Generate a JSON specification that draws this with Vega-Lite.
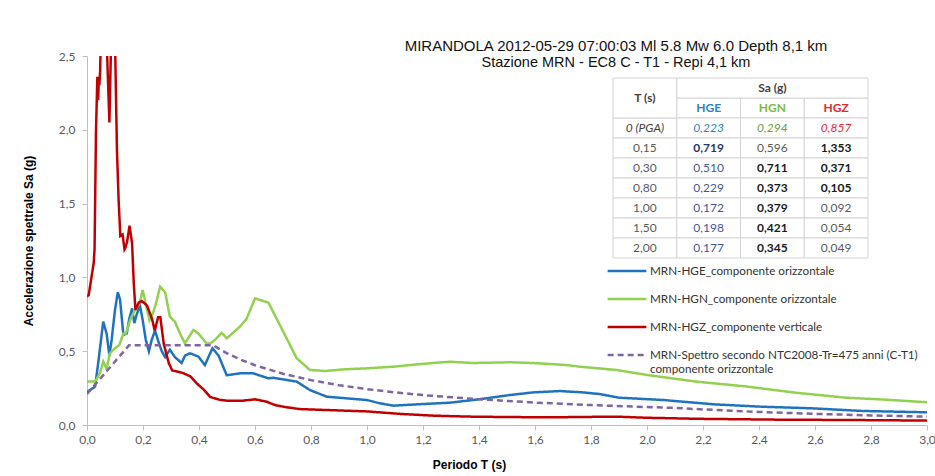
{
 "$schema": "https://vega.github.io/schema/vega-lite/v6.json",
 "width": 840,
 "height": 369,
 "autosize": "none",
 "padding": {"left": 87, "top": 56, "right": 8, "bottom": 51},
 "background": "#ffffff",
 "config": {
  "view": {"stroke": null},
  "font": "Liberation Sans",
  "legend": {"orient": "none", "legendX": 519, "legendY": 194, "title": null, "symbolType": "stroke", "symbolStrokeWidth": 2.5, "symbolSize": 1500, "labelFont": "Lato", "labelFontSize": 11.7, "labelColor": "#333333", "labelLimit": 400, "labelOffset": 2, "rowPadding": 0}
 },
 "title": {
  "text": "MIRANDOLA 2012-05-29 07:00:03 Ml 5.8 Mw 6.0 Depth 8,1 km",
  "subtitle": "Stazione MRN - EC8 C - T1 - Repi 4,1 km",
  "anchor": "middle", "dx": 109, "offset": -19,
  "font": "Liberation Sans", "fontSize": 15, "fontWeight": "normal", "color": "#111111",
  "subtitleFont": "Liberation Sans", "subtitleFontSize": 14.5, "subtitleColor": "#111111", "subtitlePadding": 2
 },
 "datasets": {
  "spettri": [
   {"s":"HGE","T":0,"Sa":0.223},{"s":"HGE","T":0.029,"Sa":0.26},{"s":"HGE","T":0.04,"Sa":0.42},{"s":"HGE","T":0.058,"Sa":0.70},{"s":"HGE","T":0.07,"Sa":0.62},{"s":"HGE","T":0.08,"Sa":0.47},{"s":"HGE","T":0.088,"Sa":0.576},{"s":"HGE","T":0.1,"Sa":0.78},{"s":"HGE","T":0.11,"Sa":0.90},{"s":"HGE","T":0.118,"Sa":0.85},{"s":"HGE","T":0.13,"Sa":0.61},{"s":"HGE","T":0.142,"Sa":0.62},{"s":"HGE","T":0.151,"Sa":0.72},{"s":"HGE","T":0.161,"Sa":0.79},{"s":"HGE","T":0.169,"Sa":0.69},{"s":"HGE","T":0.177,"Sa":0.745},{"s":"HGE","T":0.189,"Sa":0.81},{"s":"HGE","T":0.199,"Sa":0.71},{"s":"HGE","T":0.21,"Sa":0.576},{"s":"HGE","T":0.221,"Sa":0.50},{"s":"HGE","T":0.231,"Sa":0.576},{"s":"HGE","T":0.243,"Sa":0.64},{"s":"HGE","T":0.255,"Sa":0.565},{"s":"HGE","T":0.267,"Sa":0.50},{"s":"HGE","T":0.279,"Sa":0.46},{"s":"HGE","T":0.296,"Sa":0.51},{"s":"HGE","T":0.314,"Sa":0.46},{"s":"HGE","T":0.338,"Sa":0.42},{"s":"HGE","T":0.35,"Sa":0.47},{"s":"HGE","T":0.368,"Sa":0.486},{"s":"HGE","T":0.398,"Sa":0.463},{"s":"HGE","T":0.421,"Sa":0.406},{"s":"HGE","T":0.448,"Sa":0.52},{"s":"HGE","T":0.47,"Sa":0.47},{"s":"HGE","T":0.499,"Sa":0.337},{"s":"HGE","T":0.546,"Sa":0.35},{"s":"HGE","T":0.594,"Sa":0.35},{"s":"HGE","T":0.648,"Sa":0.316},{"s":"HGE","T":0.665,"Sa":0.32},{"s":"HGE","T":0.749,"Sa":0.294},{"s":"HGE","T":0.796,"Sa":0.237},{"s":"HGE","T":0.856,"Sa":0.192},{"s":"HGE","T":0.9,"Sa":0.185},{"s":"HGE","T":1.0,"Sa":0.169},{"s":"HGE","T":1.046,"Sa":0.147},{"s":"HGE","T":1.094,"Sa":0.131},{"s":"HGE","T":1.18,"Sa":0.14},{"s":"HGE","T":1.296,"Sa":0.151},{"s":"HGE","T":1.4,"Sa":0.174},{"s":"HGE","T":1.51,"Sa":0.203},{"s":"HGE","T":1.594,"Sa":0.221},{"s":"HGE","T":1.69,"Sa":0.23},{"s":"HGE","T":1.77,"Sa":0.221},{"s":"HGE","T":1.83,"Sa":0.21},{"s":"HGE","T":1.9,"Sa":0.185},{"s":"HGE","T":2.06,"Sa":0.169},{"s":"HGE","T":2.24,"Sa":0.14},{"s":"HGE","T":2.41,"Sa":0.124},{"s":"HGE","T":2.59,"Sa":0.113},{"s":"HGE","T":2.77,"Sa":0.095},{"s":"HGE","T":3.0,"Sa":0.086},
   {"s":"HGN","T":0,"Sa":0.294},{"s":"HGN","T":0.029,"Sa":0.294},{"s":"HGN","T":0.046,"Sa":0.35},{"s":"HGN","T":0.058,"Sa":0.43},{"s":"HGN","T":0.07,"Sa":0.38},{"s":"HGN","T":0.082,"Sa":0.486},{"s":"HGN","T":0.1,"Sa":0.52},{"s":"HGN","T":0.115,"Sa":0.54},{"s":"HGN","T":0.13,"Sa":0.62},{"s":"HGN","T":0.139,"Sa":0.62},{"s":"HGN","T":0.154,"Sa":0.71},{"s":"HGN","T":0.171,"Sa":0.78},{"s":"HGN","T":0.187,"Sa":0.82},{"s":"HGN","T":0.199,"Sa":0.915},{"s":"HGN","T":0.211,"Sa":0.81},{"s":"HGN","T":0.223,"Sa":0.71},{"s":"HGN","T":0.235,"Sa":0.755},{"s":"HGN","T":0.246,"Sa":0.82},{"s":"HGN","T":0.261,"Sa":0.937},{"s":"HGN","T":0.279,"Sa":0.90},{"s":"HGN","T":0.296,"Sa":0.734},{"s":"HGN","T":0.314,"Sa":0.70},{"s":"HGN","T":0.332,"Sa":0.62},{"s":"HGN","T":0.35,"Sa":0.553},{"s":"HGN","T":0.38,"Sa":0.644},{"s":"HGN","T":0.398,"Sa":0.62},{"s":"HGN","T":0.427,"Sa":0.553},{"s":"HGN","T":0.44,"Sa":0.553},{"s":"HGN","T":0.457,"Sa":0.576},{"s":"HGN","T":0.481,"Sa":0.625},{"s":"HGN","T":0.499,"Sa":0.587},{"s":"HGN","T":0.546,"Sa":0.666},{"s":"HGN","T":0.57,"Sa":0.72},{"s":"HGN","T":0.6,"Sa":0.858},{"s":"HGN","T":0.648,"Sa":0.829},{"s":"HGN","T":0.701,"Sa":0.632},{"s":"HGN","T":0.749,"Sa":0.452},{"s":"HGN","T":0.796,"Sa":0.373},{"s":"HGN","T":0.85,"Sa":0.366},{"s":"HGN","T":0.917,"Sa":0.377},{"s":"HGN","T":1.0,"Sa":0.384},{"s":"HGN","T":1.094,"Sa":0.395},{"s":"HGN","T":1.18,"Sa":0.411},{"s":"HGN","T":1.296,"Sa":0.429},{"s":"HGN","T":1.375,"Sa":0.42},{"s":"HGN","T":1.51,"Sa":0.425},{"s":"HGN","T":1.594,"Sa":0.42},{"s":"HGN","T":1.713,"Sa":0.406},{"s":"HGN","T":1.76,"Sa":0.395},{"s":"HGN","T":1.89,"Sa":0.373},{"s":"HGN","T":2.0,"Sa":0.339},{"s":"HGN","T":2.18,"Sa":0.293},{"s":"HGN","T":2.36,"Sa":0.26},{"s":"HGN","T":2.53,"Sa":0.219},{"s":"HGN","T":2.71,"Sa":0.185},{"s":"HGN","T":2.83,"Sa":0.174},{"s":"HGN","T":3.0,"Sa":0.154},
   {"s":"HGZ","T":0,"Sa":0.87},{"s":"HGZ","T":0.006,"Sa":0.88},{"s":"HGZ","T":0.02,"Sa":1.05},{"s":"HGZ","T":0.024,"Sa":1.1},{"s":"HGZ","T":0.027,"Sa":1.19},{"s":"HGZ","T":0.032,"Sa":1.98},{"s":"HGZ","T":0.037,"Sa":2.36},{"s":"HGZ","T":0.04,"Sa":2.2},{"s":"HGZ","T":0.042,"Sa":2.34},{"s":"HGZ","T":0.044,"Sa":2.3},{"s":"HGZ","T":0.047,"Sa":2.4},{"s":"HGZ","T":0.05,"Sa":2.7},{"s":"HGZ","T":0.06,"Sa":3.1},{"s":"HGZ","T":0.068,"Sa":2.8},{"s":"HGZ","T":0.072,"Sa":2.5},{"s":"HGZ","T":0.08,"Sa":2.05},{"s":"HGZ","T":0.085,"Sa":2.5},{"s":"HGZ","T":0.09,"Sa":2.9},{"s":"HGZ","T":0.097,"Sa":2.7},{"s":"HGZ","T":0.101,"Sa":2.5},{"s":"HGZ","T":0.107,"Sa":1.86},{"s":"HGZ","T":0.113,"Sa":1.52},{"s":"HGZ","T":0.119,"Sa":1.28},{"s":"HGZ","T":0.127,"Sa":1.29},{"s":"HGZ","T":0.134,"Sa":1.19},{"s":"HGZ","T":0.137,"Sa":1.2},{"s":"HGZ","T":0.143,"Sa":1.24},{"s":"HGZ","T":0.152,"Sa":1.35},{"s":"HGZ","T":0.161,"Sa":1.23},{"s":"HGZ","T":0.167,"Sa":0.96},{"s":"HGZ","T":0.173,"Sa":0.78},{"s":"HGZ","T":0.185,"Sa":0.83},{"s":"HGZ","T":0.196,"Sa":0.84},{"s":"HGZ","T":0.214,"Sa":0.81},{"s":"HGZ","T":0.232,"Sa":0.72},{"s":"HGZ","T":0.242,"Sa":0.64},{"s":"HGZ","T":0.254,"Sa":0.73},{"s":"HGZ","T":0.262,"Sa":0.73},{"s":"HGZ","T":0.274,"Sa":0.55},{"s":"HGZ","T":0.292,"Sa":0.42},{"s":"HGZ","T":0.304,"Sa":0.37},{"s":"HGZ","T":0.327,"Sa":0.36},{"s":"HGZ","T":0.345,"Sa":0.35},{"s":"HGZ","T":0.369,"Sa":0.33},{"s":"HGZ","T":0.393,"Sa":0.28},{"s":"HGZ","T":0.417,"Sa":0.24},{"s":"HGZ","T":0.44,"Sa":0.19},{"s":"HGZ","T":0.475,"Sa":0.17},{"s":"HGZ","T":0.5,"Sa":0.165},{"s":"HGZ","T":0.558,"Sa":0.165},{"s":"HGZ","T":0.6,"Sa":0.174},{"s":"HGZ","T":0.642,"Sa":0.158},{"s":"HGZ","T":0.671,"Sa":0.135},{"s":"HGZ","T":0.713,"Sa":0.12},{"s":"HGZ","T":0.76,"Sa":0.108},{"s":"HGZ","T":0.8,"Sa":0.105},{"s":"HGZ","T":0.88,"Sa":0.1},{"s":"HGZ","T":1.0,"Sa":0.092},{"s":"HGZ","T":1.12,"Sa":0.075},{"s":"HGZ","T":1.24,"Sa":0.063},{"s":"HGZ","T":1.36,"Sa":0.057},{"s":"HGZ","T":1.5,"Sa":0.054},{"s":"HGZ","T":1.65,"Sa":0.052},{"s":"HGZ","T":1.8,"Sa":0.055},{"s":"HGZ","T":1.9,"Sa":0.056},{"s":"HGZ","T":2.0,"Sa":0.049},{"s":"HGZ","T":2.18,"Sa":0.042},{"s":"HGZ","T":2.475,"Sa":0.036},{"s":"HGZ","T":2.71,"Sa":0.034},{"s":"HGZ","T":3.0,"Sa":0.03},
   {"s":"NTC","T":0,"Sa":0.21},{"s":"NTC","T":0.15,"Sa":0.54},{"s":"NTC","T":0.45,"Sa":0.54},{"s":"NTC","T":0.5,"Sa":0.486},{"s":"NTC","T":0.55,"Sa":0.442},{"s":"NTC","T":0.6,"Sa":0.405},{"s":"NTC","T":0.7,"Sa":0.347},{"s":"NTC","T":0.8,"Sa":0.304},{"s":"NTC","T":0.9,"Sa":0.27},{"s":"NTC","T":1.0,"Sa":0.243},{"s":"NTC","T":1.1,"Sa":0.221},{"s":"NTC","T":1.2,"Sa":0.2025},{"s":"NTC","T":1.4,"Sa":0.174},{"s":"NTC","T":1.6,"Sa":0.152},{"s":"NTC","T":1.8,"Sa":0.135},{"s":"NTC","T":2.0,"Sa":0.1215},{"s":"NTC","T":2.1,"Sa":0.1157},{"s":"NTC","T":2.2,"Sa":0.1054},{"s":"NTC","T":2.4,"Sa":0.0886},{"s":"NTC","T":2.6,"Sa":0.0755},{"s":"NTC","T":2.8,"Sa":0.0651},{"s":"NTC","T":3.0,"Sa":0.0567}
  ],
  "tabella": [
   {"r":"h1","c":"T","t":"T (s)","k":"h"},{"r":"h1","c":"HGN","t":"Sa (g)","k":"h"},
   {"r":"h2","c":"HGE","t":"HGE","k":"h"},{"r":"h2","c":"HGN","t":"HGN","k":"h"},{"r":"h2","c":"HGZ","t":"HGZ","k":"h"},
   {"r":"PGA","c":"T","t":"0 (PGA)","k":"p"},{"r":"PGA","c":"HGE","t":"0,223","k":"p"},{"r":"PGA","c":"HGN","t":"0,294","k":"p"},{"r":"PGA","c":"HGZ","t":"0,857","k":"p"},
   {"r":"0,15","c":"T","t":"0,15","k":"v"},{"r":"0,15","c":"HGE","t":"0,719","k":"v","e":true},{"r":"0,15","c":"HGN","t":"0,596","k":"v"},{"r":"0,15","c":"HGZ","t":"1,353","k":"v","e":true},
   {"r":"0,30","c":"T","t":"0,30","k":"v"},{"r":"0,30","c":"HGE","t":"0,510","k":"v"},{"r":"0,30","c":"HGN","t":"0,711","k":"v","e":true},{"r":"0,30","c":"HGZ","t":"0,371","k":"v","e":true},
   {"r":"0,80","c":"T","t":"0,80","k":"v"},{"r":"0,80","c":"HGE","t":"0,229","k":"v"},{"r":"0,80","c":"HGN","t":"0,373","k":"v","e":true},{"r":"0,80","c":"HGZ","t":"0,105","k":"v","e":true},
   {"r":"1,00","c":"T","t":"1,00","k":"v"},{"r":"1,00","c":"HGE","t":"0,172","k":"v"},{"r":"1,00","c":"HGN","t":"0,379","k":"v","e":true},{"r":"1,00","c":"HGZ","t":"0,092","k":"v"},
   {"r":"1,50","c":"T","t":"1,50","k":"v"},{"r":"1,50","c":"HGE","t":"0,198","k":"v"},{"r":"1,50","c":"HGN","t":"0,421","k":"v","e":true},{"r":"1,50","c":"HGZ","t":"0,054","k":"v"},
   {"r":"2,00","c":"T","t":"2,00","k":"v"},{"r":"2,00","c":"HGE","t":"0,177","k":"v"},{"r":"2,00","c":"HGN","t":"0,345","k":"v","e":true},{"r":"2,00","c":"HGZ","t":"0,049","k":"v"}
  ],
  "unite": [
   {"r":"h1","r2":"h2","c":"T","c2":"T"},
   {"r":"h1","r2":"h1","c":"HGE","c2":"HGZ"}
  ]
 },
 "layer": [
  {
   "data": {"name": "spettri"},
   "mark": {"type": "line", "clip": true, "strokeWidth": 2.5},
   "encoding": {
    "x": {"field": "T", "type": "quantitative", "scale": {"domain": [0, 3], "nice": false},
     "axis": {"values": [0,0.2,0.4,0.6,0.8,1.0,1.2,1.4,1.6,1.8,2.0,2.2,2.4,2.6,2.8,3.0], "labelExpr": "replace(format(datum.value, '.1f'), '.', ',')", "labelFlush": false, "grid": false, "labelFont": "Lato", "labelFontSize": 12, "labelColor": "#595959", "domainColor": "#bfbfbf", "tickColor": "#bfbfbf", "tickSize": 5, "labelPadding": 4, "title": "Periodo T (s)", "titleFont": "Liberation Sans", "titleFontSize": 12, "titleFontWeight": "bold", "titleColor": "#000000", "titlePadding": 14, "titleX": 382, "titleAlign": "center"}},
    "y": {"field": "Sa", "type": "quantitative", "scale": {"domain": [0, 2.5], "nice": false},
     "axis": {"values": [0,0.5,1.0,1.5,2.0,2.5], "labelExpr": "replace(format(datum.value, '.1f'), '.', ',')", "labelFlush": false, "grid": false, "labelFont": "Lato", "labelFontSize": 12, "labelColor": "#595959", "domainColor": "#bfbfbf", "tickColor": "#bfbfbf", "tickSize": 5, "labelPadding": 7, "title": "Accelerazione spettrale Sa (g)", "titleFont": "Liberation Sans", "titleFontSize": 12, "titleFontWeight": "bold", "titleColor": "#000000", "titlePadding": 23}},
    "color": {"field": "s", "type": "nominal", "scale": {"domain": ["HGE","HGN","HGZ","NTC"], "range": ["#1f73be","#92d050","#c00000","#7f64a2"]},
     "legend": {"labelExpr": "datum.label == 'HGE' ? 'MRN-HGE_componente orizzontale' : datum.label == 'HGN' ? 'MRN-HGN_componente orizzontale' : datum.label == 'HGZ' ? 'MRN-HGZ_componente verticale' : ['MRN-Spettro secondo NTC2008-Tr=475 anni (C-T1)', 'componente orizzontale']"}},
    "strokeDash": {"field": "s", "type": "nominal", "scale": {"domain": ["HGE","HGN","HGZ","NTC"], "range": [[1,0],[1,0],[1,0],[6,4]]},
     "legend": {"labelExpr": "datum.label == 'HGE' ? 'MRN-HGE_componente orizzontale' : datum.label == 'HGN' ? 'MRN-HGN_componente orizzontale' : datum.label == 'HGZ' ? 'MRN-HGZ_componente verticale' : ['MRN-Spettro secondo NTC2008-Tr=475 anni (C-T1)', 'componente orizzontale']"}}
   }
  },
  {
   "layer": [
    {
     "data": {"name": "tabella"},
     "transform": [{"filter": "datum.r != 'h1'"}],
     "mark": {"type": "rect", "fill": "#ffffff", "stroke": "#d4d4d4", "strokeWidth": 1},
     "encoding": {
      "x": {"field": "c", "type": "nominal", "scale": {"type": "band", "domain": ["T","HGE","HGN","HGZ"], "range": [526, 781], "paddingInner": 0, "paddingOuter": 0}, "axis": null},
      "y": {"field": "r", "type": "nominal", "scale": {"type": "band", "domain": ["h1","h2","PGA","0,15","0,30","0,80","1,00","1,50","2,00"], "range": [22, 202], "paddingInner": 0, "paddingOuter": 0}, "axis": null}
     }
    },
    {
     "data": {"name": "unite"},
     "mark": {"type": "rect", "fill": "#ffffff", "stroke": "#d4d4d4", "strokeWidth": 1},
     "encoding": {
      "x": {"field": "c", "type": "nominal", "bandPosition": 0},
      "x2": {"field": "c2", "bandPosition": 1},
      "y": {"field": "r", "type": "nominal", "bandPosition": 0},
      "y2": {"field": "r2", "bandPosition": 1}
     }
    },
    {
     "data": {"name": "tabella"},
     "transform": [{"filter": "datum.t == 'T (s)'"}],
     "mark": {"type": "text", "font": "Lato", "fontSize": 12, "fontWeight": "bold", "color": "#404040"},
     "encoding": {
      "x": {"field": "c", "type": "nominal"},
      "y": {"field": "r", "type": "nominal", "bandPosition": 1},
      "text": {"field": "t"}
     }
    },
    {
     "data": {"name": "tabella"},
     "transform": [{"filter": "datum.k == 'h' && datum.t != 'T (s)'"}],
     "mark": {"type": "text", "font": "Lato", "fontSize": 12, "fontWeight": "bold"},
     "encoding": {
      "x": {"field": "c", "type": "nominal"},
      "y": {"field": "r", "type": "nominal"},
      "text": {"field": "t"},
      "color": {"condition": [{"test": "datum.t == 'HGE'", "value": "#2e80c8"}, {"test": "datum.t == 'HGN'", "value": "#7cb842"}, {"test": "datum.t == 'HGZ'", "value": "#e8262e"}], "value": "#404040"}
     }
    },
    {
     "data": {"name": "tabella"},
     "transform": [{"filter": "datum.k == 'p'"}],
     "mark": {"type": "text", "font": "Lato", "fontSize": 12, "fontStyle": "italic"},
     "encoding": {
      "x": {"field": "c", "type": "nominal"},
      "y": {"field": "r", "type": "nominal"},
      "text": {"field": "t"},
      "color": {"condition": [{"test": "datum.c == 'HGE'", "value": "#2e80c8"}, {"test": "datum.c == 'HGN'", "value": "#6a9a3e"}, {"test": "datum.c == 'HGZ'", "value": "#e8262e"}], "value": "#404040"}
     }
    },
    {
     "data": {"name": "tabella"},
     "transform": [{"filter": "datum.k == 'v' && !datum.e"}],
     "mark": {"type": "text", "font": "Lato", "fontSize": 12},
     "encoding": {
      "x": {"field": "c", "type": "nominal"},
      "y": {"field": "r", "type": "nominal"},
      "text": {"field": "t"},
      "color": {"condition": [{"test": "datum.c == 'HGE'", "value": "#3f5796"}], "value": "#595959"}
     }
    },
    {
     "data": {"name": "tabella"},
     "transform": [{"filter": "datum.k == 'v' && datum.e"}],
     "mark": {"type": "text", "font": "Lato", "fontSize": 12, "fontWeight": "bold"},
     "encoding": {
      "x": {"field": "c", "type": "nominal"},
      "y": {"field": "r", "type": "nominal"},
      "text": {"field": "t"},
      "color": {"condition": [{"test": "datum.c == 'HGE'", "value": "#1f3864"}], "value": "#1a1a1a"}
     }
    }
   ]
  }
 ],
 "resolve": {"scale": {"x": "independent", "y": "independent"}}
}
